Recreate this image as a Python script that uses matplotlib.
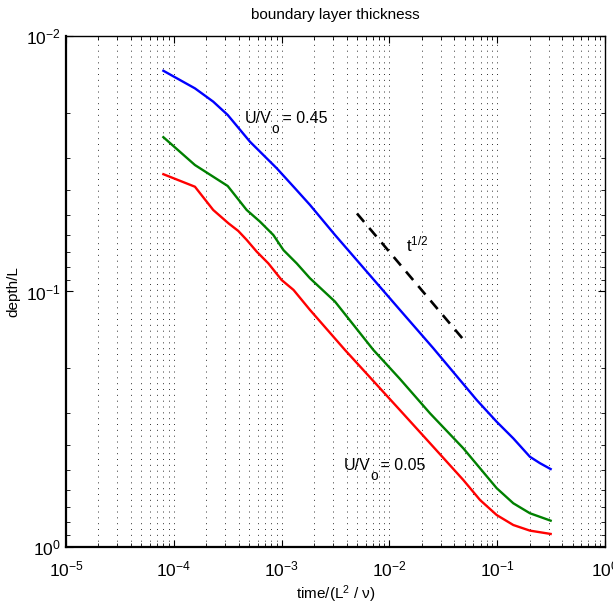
import matplotlib
matplotlib.use("Agg")
import matplotlib.pyplot as plt
from matplotlib.ticker import LogLocator, NullFormatter
from matplotlib.transforms import offset_copy

plt.rcParams['font.family'] = ['Liberation Sans', 'DejaVu Sans']
plt.rcParams['mathtext.fontset'] = 'custom'
plt.rcParams['mathtext.rm'] = 'Liberation Sans'
plt.rcParams['mathtext.it'] = 'Liberation Sans:italic'
plt.rcParams['mathtext.default'] = 'regular'

# ---- data ----
t_045 = [8.00e-5, 1.57e-4, 2.32e-4, 3.16e-4, 5.09e-4, 9.02e-4, 1.33e-3, 1.83e-3,
         3.13e-3, 1.25e-2, 2.55e-2, 6.46e-2, 9.89e-2, 0.141, 0.201, 0.249, 0.313]
d_045 = [0.01368, 0.01603, 0.01807, 0.02037, 0.02594, 0.03296, 0.03945, 0.04581,
         0.06012, 0.1180, 0.1667, 0.2661, 0.3236, 0.3758, 0.4436, 0.4699, 0.4955]

t_mid = [8.00e-5, 1.57e-4, 3.16e-4, 4.74e-4, 6.31e-4, 8.38e-4, 1.04e-3, 1.38e-3,
         1.83e-3, 3.13e-3, 7.10e-3, 1.25e-2, 2.38e-2, 4.85e-2, 9.89e-2, 0.141, 0.201, 0.313]
d_mid = [0.02489, 0.03199, 0.03864, 0.04797, 0.05333, 0.06012, 0.06887, 0.07762,
         0.08872, 0.1096, 0.1694, 0.2198, 0.2999, 0.4111, 0.5888, 0.6745, 0.7379, 0.7889]

t_005 = [8.00e-5, 1.57e-4, 2.32e-4, 3.21e-4, 3.96e-4, 4.74e-4, 5.87e-4, 7.53e-4,
         1.00e-3, 1.29e-3, 1.83e-3, 3.87e-3, 1.25e-2, 2.38e-2, 4.85e-2, 6.92e-2,
         9.89e-2, 0.141, 0.201, 0.313]
d_005 = [0.03475, 0.03890, 0.04797, 0.05408, 0.05794, 0.06281, 0.06982, 0.07762,
         0.09016, 0.09863, 0.1180, 0.1694, 0.2911, 0.3926, 0.5470, 0.6546,
         0.7499, 0.8204, 0.8630, 0.8892]

t_ref = [0.005, 0.05]
d_ref = [0.0495, 0.1565]

fig = plt.figure(figsize=(6.13, 6.06), dpi=100)
ax = fig.add_axes([0.1077, 0.0974, 0.8793, 0.8432])

ax.plot(t_045, d_045, color=(0, 0, 1), lw=1.7)
ax.plot(t_mid, d_mid, color=(0, 0.5, 0), lw=1.7)
ax.plot(t_005, d_005, color=(1, 0, 0), lw=1.7)
ax.plot(t_ref, d_ref, color='k', lw=1.9, linestyle=(0, (4.2, 3)))

ax.set_xscale('log')
ax.set_yscale('log')
ax.set_xlim(1e-5, 1)
ax.set_ylim(1, 1e-2)

ax.xaxis.set_major_locator(LogLocator(base=10, numticks=10))
ax.xaxis.set_minor_locator(LogLocator(base=10, subs=range(2, 10), numticks=20))
ax.yaxis.set_major_locator(LogLocator(base=10, numticks=10))
ax.yaxis.set_minor_locator(LogLocator(base=10, subs=range(2, 10), numticks=20))
ax.xaxis.set_minor_formatter(NullFormatter())
ax.yaxis.set_minor_formatter(NullFormatter())

ax.grid(True, which='both', axis='x', color='#303030', linestyle=(0, (1, 5)), lw=0.7)
ax.tick_params(which='both', direction='in', top=True, right=True, labelsize=12.5)
ax.tick_params(which='major', length=5, width=0.8)
ax.tick_params(which='minor', length=3, width=0.6)
for s in ax.spines.values():
    s.set_linewidth(1.0)
ax.spines['left'].set_linewidth(1.6)
ax.spines['bottom'].set_linewidth(1.6)
ax.tick_params(axis='x', pad=9)
ax.tick_params(axis='y', pad=4)

renderer = fig.canvas.get_renderer()


def sub_label(x, y, main, sub, rest, fs=11.5):
    t1 = ax.text(x, y, main, fontsize=fs, va='baseline', ha='left')
    w1 = t1.get_window_extent(renderer).width * 72 / fig.dpi
    tr = offset_copy(ax.transData, fig=fig, x=w1, y=-7, units='points')
    t2 = ax.text(x, y, sub, fontsize=fs * 0.85, va='baseline', ha='left', transform=tr)
    w2 = t2.get_window_extent(renderer).width * 72 / fig.dpi
    tr2 = offset_copy(ax.transData, fig=fig, x=w1 + w2 - 1.0, y=0, units='points')
    ax.text(x, y, rest, fontsize=fs, va='baseline', ha='left', transform=tr2)


sub_label(4.57e-4, 0.0219, 'U/V', 'o', ' = 0.45')
sub_label(3.73e-3, 0.50, 'U/V', 'o', ' = 0.05')
ax.text(1.425e-2, 0.0698, r't$^{1/2}$', fontsize=12, va='baseline', ha='left')

ax.set_title('boundary layer thickness', fontsize=11, pad=12)
ax.set_xlabel(r'time/(L$^{2}$ / $\nu$)', fontsize=11)
ax.set_ylabel('depth/L', fontsize=11)
ax.xaxis.set_label_coords(0.5, -0.072)
ax.yaxis.set_label_coords(-0.084, 0.5)

fig.savefig('out.png', dpi=100)
